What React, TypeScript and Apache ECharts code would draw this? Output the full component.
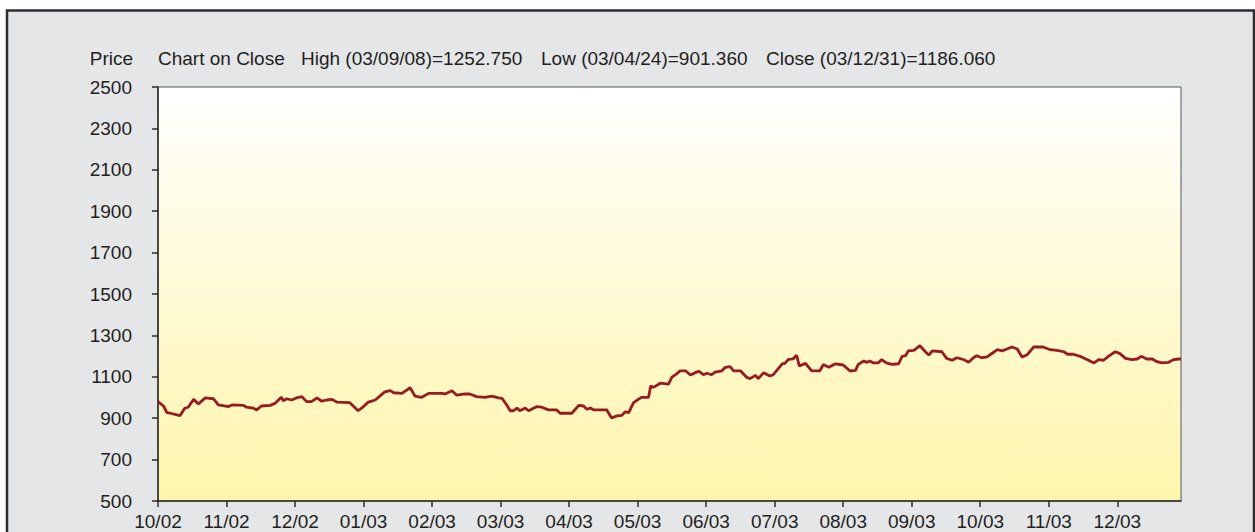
import React, { useEffect, useRef } from "react";
import * as echarts from "echarts";

const monthLabels = [
  "10/02", "11/02", "12/02", "01/03", "02/03", "03/03", "04/03", "05/03",
  "06/03", "07/03", "08/03", "09/03", "10/03", "11/03", "12/03",
];

// position in months since 1 Oct 2002
const monthPos = [
  0.0, 0.08, 0.13, 0.18, 0.32, 0.39, 0.44, 0.52, 0.59, 0.69, 0.81, 0.88, 1.03, 1.08, 1.25, 1.29,
  1.39, 1.44, 1.51, 1.64, 1.71, 1.8, 1.83, 1.88, 1.95, 2.02, 2.1, 2.17, 2.24, 2.32, 2.39, 2.46,
  2.54, 2.61, 2.8, 2.92, 3.0, 3.07, 3.17, 3.31, 3.39, 3.44, 3.56, 3.68, 3.75, 3.85, 3.95, 4.14,
  4.19, 4.29, 4.36, 4.41, 4.48, 4.55, 4.65, 4.77, 4.87, 4.97, 5.02, 5.09, 5.14, 5.19, 5.24, 5.28,
  5.36, 5.41, 5.53, 5.6, 5.7, 5.82, 5.87, 6.04, 6.14, 6.21, 6.26, 6.31, 6.36, 6.55, 6.62, 6.7,
  6.77, 6.82, 6.87, 6.94, 7.01, 7.06, 7.16, 7.19, 7.23, 7.33, 7.45, 7.5, 7.57, 7.62, 7.7, 7.77,
  7.84, 7.89, 7.96, 8.01, 8.08, 8.13, 8.23, 8.28, 8.35, 8.4, 8.5, 8.59, 8.64, 8.72, 8.76, 8.84,
  8.93, 8.98, 9.11, 9.15, 9.2, 9.27, 9.32, 9.36, 9.45, 9.54, 9.66, 9.71, 9.79, 9.88, 10.0, 10.1,
  10.18, 10.22, 10.3, 10.35, 10.39, 10.44, 10.51, 10.56, 10.63, 10.71, 10.81, 10.86, 10.91, 10.95, 11.03, 11.12,
  11.2, 11.25, 11.3, 11.44, 11.51, 11.59, 11.66, 11.76, 11.83, 11.9, 11.95, 12.02, 12.1, 12.18, 12.25, 12.32,
  12.39, 12.46, 12.54, 12.61, 12.68, 12.78, 12.92, 13.02, 13.12, 13.22, 13.27, 13.36, 13.48, 13.58, 13.66, 13.73,
  13.8, 13.87, 13.97, 14.04, 14.12, 14.21, 14.29, 14.35, 14.43, 14.51, 14.58, 14.65, 14.75, 14.82, 14.9, 14.93,
];

const closes = [
  980, 959, 927, 924, 912, 948, 953, 991, 969, 998, 994, 964, 956, 964, 962, 953,
  949, 940, 959, 962, 972, 1001, 984, 994, 988, 998, 1004, 980, 980, 998, 982, 988,
  991, 978, 975, 936, 956, 978, 988, 1027, 1033, 1023, 1020, 1047, 1007, 1001, 1020, 1020,
  1017, 1033, 1011, 1014, 1017, 1017, 1004, 1001, 1007, 998, 996, 964, 936, 936, 949, 936,
  949, 936, 956, 953, 940, 940, 924, 924, 962, 959, 943, 949, 940, 940, 901, 911,
  914, 931, 927, 975, 991, 1001, 1001, 1056, 1049, 1069, 1065, 1098, 1114, 1129, 1129, 1109,
  1120, 1127, 1110, 1117, 1110, 1123, 1129, 1146, 1149, 1129, 1129, 1098, 1091, 1107, 1091, 1120,
  1104, 1110, 1162, 1165, 1184, 1187, 1204, 1152, 1165, 1129, 1129, 1159, 1146, 1162, 1157, 1128,
  1131, 1160, 1176, 1170, 1176, 1167, 1167, 1183, 1167, 1160, 1163, 1199, 1202, 1225, 1228, 1250,
  1221, 1205, 1225, 1221, 1189, 1180, 1192, 1183, 1170, 1192, 1202, 1192, 1196, 1215, 1231, 1225,
  1234, 1244, 1234, 1196, 1205, 1244, 1244, 1231, 1228, 1221, 1209, 1209, 1196, 1180, 1167, 1183,
  1180, 1199, 1221, 1212, 1189, 1183, 1186, 1199, 1186, 1186, 1173, 1167, 1170, 1183, 1186, 1186,
];

const yTicks = { min: 500, max: 2500, step: 200 };
const axisName = "Price";
const headerTexts = [
  "Chart on Close",
  "High (03/09/08)=1252.750",
  "Low (03/04/24)=901.360",
  "Close (03/12/31)=1186.060",
];

const FONT = "'Liberation Sans', Arial, Helvetica, sans-serif";
const TEXT = "#231f20";
const FS = 19;

export default function App() {
  const ref = useRef<HTMLDivElement>(null);
  useEffect(() => {
    if (!ref.current) return;
    const chart = echarts.init(ref.current, undefined, { renderer: "svg" });
    const headerX = [158, 301, 541, 766];
    chart.setOption({
      animation: false,
      backgroundColor: "#ffffff",
      textStyle: { fontFamily: FONT },
      graphic: [
        {
          type: "rect",
          z: -10,
          shape: { x: 7, y: 10.5, width: 1247, height: 600 },
          style: { fill: "#e5e6e8", stroke: "#2e2e30", lineWidth: 2.5 },
        },
        {
          type: "text",
          x: 133,
          y: 58,
          style: {
            text: axisName,
            fill: TEXT,
            font: `${FS}px ${FONT}`,
            align: "right",
            verticalAlign: "middle",
          },
        },
        ...headerTexts.map((t, i) => ({
          type: "text",
          x: headerX[i],
          y: 58,
          style: {
            text: t,
            fill: TEXT,
            font: `${FS}px ${FONT}`,
            align: "left",
            verticalAlign: "middle",
          },
        })),
      ],
      grid: {
        left: 158,
        top: 87,
        right: 74,
        bottom: 31,
        show: true,
        borderColor: "#555557",
        borderWidth: 1,
        backgroundColor: new echarts.graphic.LinearGradient(0, 0, 0, 1, [
          { offset: 0, color: "#ffffff" },
          { offset: 1, color: "#fff5ab" },
        ]),
      },
      xAxis: {
        type: "value",
        min: 0,
        max: 14.93,
        interval: 1,
        axisLine: { show: true, lineStyle: { color: "#2b2b2b", width: 1.5 } },
        axisTick: {
          show: true,
          inside: false,
          length: 6,
          lineStyle: { color: "#2b2b2b", width: 1.5 },
          customValues: monthLabels.map((_, i) => i),
        },
        axisLabel: {
          color: TEXT,
          fontSize: FS,
          fontFamily: FONT,
          margin: 11,
          customValues: monthLabels.map((_, i) => i),
          formatter: (v: number) => monthLabels[Math.round(v)] ?? "",
        },
        splitLine: { show: false },
      },
      yAxis: {
        type: "value",
        min: yTicks.min,
        max: yTicks.max,
        interval: yTicks.step,
        axisLine: { show: true, lineStyle: { color: "#2b2b2b", width: 1.5 } },
        axisTick: { show: true, inside: false, length: 6, lineStyle: { color: "#2b2b2b", width: 1.5 } },
        axisLabel: {
          color: TEXT,
          fontSize: FS,
          fontFamily: FONT,
          margin: 26,
          formatter: (v: number) => String(v),
        },
        splitLine: { show: false },
      },
      series: [
        {
          type: "line",
          data: monthPos.map((m, i) => [m, closes[i]]),
          symbol: "none",
          lineStyle: { color: "#981b1f", width: 2.8 },
        },
      ],
    });
    return () => chart.dispose();
  }, []);
  return (
    <div
      ref={ref}
      style={{ position: "absolute", left: 0, top: 0, width: 1255, height: 532 }}
    />
  );
}
